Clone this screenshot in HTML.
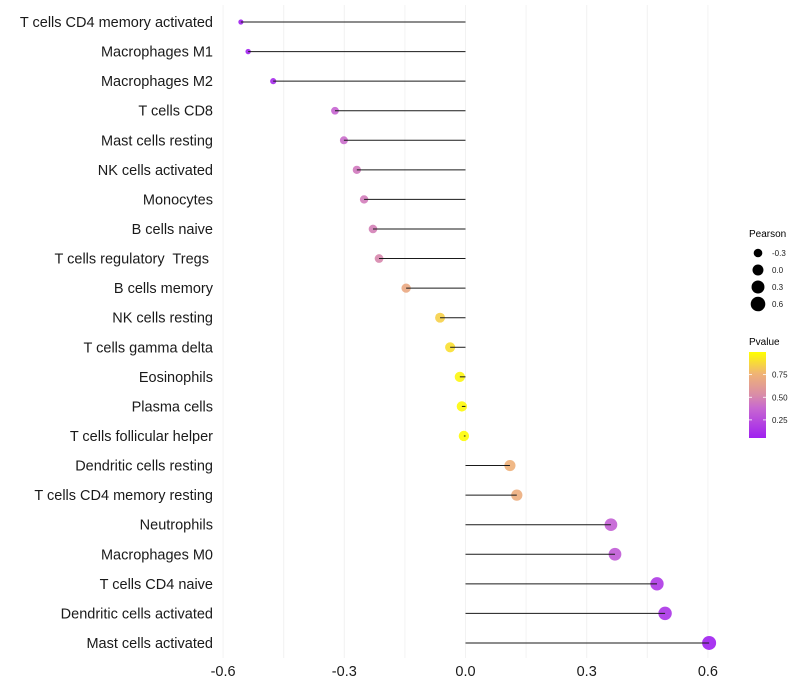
<!DOCTYPE html>
<html><head><meta charset="utf-8"><style>
body{margin:0;background:#fff;}
svg{display:block;font-family:"Liberation Sans",sans-serif;}
</style></head><body>
<svg id="chart" width="800" height="700" viewBox="0 0 800 700">
<defs>
<linearGradient id="pg" x1="0" y1="1" x2="0" y2="0">
<stop offset="0" stop-color="#a020f0"/>
<stop offset="0.35" stop-color="#c868d0"/>
<stop offset="0.5" stop-color="#d98ca8"/>
<stop offset="0.75" stop-color="#f0b474"/>
<stop offset="1" stop-color="#ffff00"/>
</linearGradient>
</defs>
<g id="grid"></g>
<g id="marks"></g>
<g id="ylabels"></g>
<g id="xlabels"></g>
<g>
<text x="749" y="237" font-size="10" fill="#000">Pearson</text>
<g id="sizeleg"></g>
</g>
<g>
<text x="749" y="345" font-size="10" fill="#000">Pvalue</text>
<rect x="749" y="352" width="17" height="86" fill="url(#pg)"/>
<g id="colleg"></g>
</g>
</svg>
<script>
const categories=["T cells CD4 memory activated","Macrophages M1","Macrophages M2","T cells CD8","Mast cells resting","NK cells activated","Monocytes","B cells naive","T cells regulatory  Tregs ","B cells memory","NK cells resting","T cells gamma delta","Eosinophils","Plasma cells","T cells follicular helper","Dendritic cells resting","T cells CD4 memory resting","Neutrophils","Macrophages M0","T cells CD4 naive","Dendritic cells activated","Mast cells activated"];
const pearson=[-0.556,-0.538,-0.476,-0.323,-0.301,-0.269,-0.251,-0.229,-0.214,-0.147,-0.063,-0.038,-0.014,-0.009,-0.004,0.110,0.127,0.360,0.370,0.474,0.494,0.603];
const pvalue=[0.05,0.06,0.09,0.32,0.36,0.42,0.44,0.46,0.5,0.7,0.85,0.9,0.97,0.98,0.99,0.74,0.72,0.3,0.28,0.15,0.13,0.05];
const xTicks=[-0.6,-0.3,0.0,0.3,0.6];
const xTickLabels=["-0.6","-0.3","0.0","0.3","0.6"];
const sizeLegendValues=[-0.3,0.0,0.3,0.6];
const colorLegendValues=[0.25,0.5,0.75];
const colorLegendLabels=["0.25","0.50","0.75"];

const NS="http://www.w3.org/2000/svg";
const x=v=>465.5+v*404;
const y=i=>22+i*29.57;
const rad=v=>Math.sqrt(Math.max(2.5,27+36.7*v));
const stops=[[0,[160,32,240]],[0.3,[200,104,208]],[0.5,[217,140,168]],[0.75,[240,180,116]],[1,[255,255,0]]];
const pmin=0.05,pmax=1.0;
function col(p){let t=(p-pmin)/(pmax-pmin);t=Math.max(0,Math.min(1,t));
for(let k=1;k<stops.length;k++){if(t<=stops[k][0]){const a=stops[k-1],b=stops[k];const f=(t-a[0])/(b[0]-a[0]);
const c=a[1].map((v,j)=>Math.round(v+(b[1][j]-v)*f));return `rgb(${c})`;}}return "rgb(255,255,0)";}
function mk(tag,attrs,parent){const e=document.createElementNS(NS,tag);for(const k in attrs)e.setAttribute(k,attrs[k]);parent.appendChild(e);return e;}

const grid=document.getElementById('grid');
for(let v=-0.6;v<=0.61;v+=0.15){
 const l=mk('line',{x1:x(v),x2:x(v),y1:5,y2:658,stroke:'#f2f2f2','stroke-width':1},grid);
 
 
}
const marks=document.getElementById('marks');
const yl=document.getElementById('ylabels');
categories.forEach((c,i)=>{
 const v=pearson[i];
 const pt=mk('circle',{cx:x(v),cy:y(i),r:rad(v),fill:col(pvalue[i]),'fill-opacity':0.9},marks);
 
 
 const sg=mk('line',{x1:x(0),x2:x(v),y1:y(i),y2:y(i),stroke:'#1a1a1a','stroke-width':1},marks);
 
 
 const t=mk('text',{x:213,y:y(i)+5,'text-anchor':'end','font-size':14.5,fill:'#1a1a1a',style:'white-space:pre'},yl);
 t.textContent=c;
 
 
});
const xl=document.getElementById('xlabels');
xTicks.forEach((v,i)=>{
 const t=mk('text',{x:x(v),y:676,'text-anchor':'middle','font-size':14.5,fill:'#1a1a1a'},xl);
 t.textContent=xTickLabels[i];
 
 
});
const sl=document.getElementById('sizeleg');
sizeLegendValues.forEach((v,i)=>{
 const cy=253+i*17;
 const c=mk('circle',{cx:758,cy:cy,r:rad(v)+0.3,fill:'#000'},sl);
 
 
 const t=mk('text',{x:772,y:cy+3,'font-size':8,fill:'#1a1a1a'},sl);
 t.textContent=v.toFixed(1);
 
 
});
const cl=document.getElementById('colleg');
colorLegendValues.forEach((p,i)=>{
 const yy=438-(p-pmin)/(pmax-pmin)*86;
 mk('line',{x1:749,x2:752,y1:yy,y2:yy,stroke:'#fff','stroke-width':0.8},cl);
 mk('line',{x1:763,x2:766,y1:yy,y2:yy,stroke:'#fff','stroke-width':0.8},cl);
 const t=mk('text',{x:772,y:yy+3,'font-size':8,fill:'#1a1a1a'},cl);
 t.textContent=colorLegendLabels[i];
 
 
});
</script>
</body></html>
